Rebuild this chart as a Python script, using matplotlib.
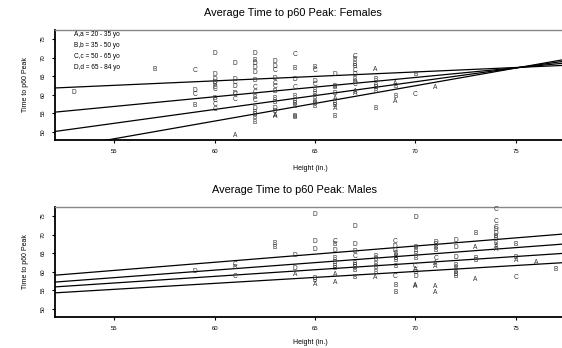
import matplotlib
matplotlib.use("Agg")
import matplotlib.pyplot as plt
import numpy as np

plt.rcParams['font.family'] = ['Liberation Sans', 'DejaVu Sans']

# females: height (in.), time to p60 peak, age group letter
female_height = [53, 57, 59, 59, 59, 59,
                 60, 60, 60, 60, 60, 60, 60, 60, 60, 60, 60,
                 61, 61, 61, 61, 61, 61, 61, 61,
                 62, 62, 62, 62, 62, 62, 62, 62, 62, 62, 62, 62, 62, 62, 62,
                 63, 63, 63, 63, 63, 63, 63, 63, 63, 63, 63, 63, 63,
                 64, 64, 64, 64, 64, 64, 64, 64, 64, 64,
                 65, 65, 65, 65, 65, 65, 65, 65, 65, 65,
                 66, 66, 66, 66, 66, 66, 66, 66, 66,
                 67, 67, 67, 67, 67, 67, 67, 67, 67, 67, 67,
                 68, 68, 68, 68, 68, 68,
                 69, 69, 69, 69,
                 70, 70,
                 71]
female_time = [60.6, 66.8, 66.4, 61.0, 60.1, 57.1,
               71.0, 65.3, 64.0, 63.3, 62.6, 62.0, 61.3, 59.1, 58.4, 57.3, 55.9,
               68.4, 64.0, 63.2, 62.3, 60.4, 60.0, 58.8, 49.0,
               71.1, 69.2, 68.4, 67.4, 66.0, 63.8, 61.8, 60.6, 59.2, 58.5, 56.3, 55.3, 54.6, 53.8, 52.6,
               69.0, 67.6, 66.5, 64.3, 63.1, 62.3, 60.9, 59.1, 57.8, 56.4, 55.4, 54.5, 54.1,
               70.9, 67.1, 64.2, 62.0, 59.6, 58.2, 57.5, 56.8, 54.0, 53.8,
               67.4, 66.5, 63.6, 62.6, 61.2, 60.0, 59.2, 58.0, 57.6, 56.8,
               65.5, 62.3, 61.8, 60.4, 59.0, 57.7, 57.2, 56.3, 54.0,
               70.4, 69.4, 68.0, 67.6, 66.6, 65.4, 64.0, 63.4, 62.6, 60.8, 60.2,
               66.8, 64.1, 62.5, 61.9, 60.9, 56.3,
               63.1, 62.1, 59.4, 58.1,
               65.3, 60.1,
               61.9]
female_group = list("DBCDCB"
                    "DDDDBCCBCCC"
                    "DDCDDCCA"
                    "DBDDDDCCBCDBBBB"
                    "DDCDCCBBBDBAA"
                    "CBDCBBBBBB"
                    "BCDCBBBBBB"
                    "DBBDABBAB"
                    "CBBBCDBDCAA"
                    "ABBBBB"
                    "ABBA"
                    "BC"
                    "A")

# males
male_height = [59, 61, 61, 61, 63, 63, 64, 64, 64,
               65, 65, 65, 65, 65, 65,
               66, 66, 66, 66, 66, 66, 66, 66, 66,
               67, 67, 67, 67, 67, 67, 67, 67, 67,
               68, 68, 68, 68, 68, 68,
               69, 69, 69, 69, 69, 69, 69, 69, 69, 69, 69,
               70, 70, 70, 70, 70, 70, 70, 70, 70, 70, 70,
               71, 71, 71, 71, 71, 71, 71, 71, 71,
               72, 72, 72, 72, 72, 72, 72, 72,
               73, 73, 73, 73, 73,
               74, 74, 74, 74, 74, 74, 74, 74, 74, 74,
               75, 75, 75, 75,
               76, 77]
male_time = [60.1, 61.9, 61.0, 58.8, 67.5, 66.5, 64.3, 60.9, 59.2,
             75.5, 68.0, 66.0, 58.2, 57.6, 56.5,
             68.2, 67.3, 65.8, 63.6, 62.5, 61.5, 60.9, 59.2, 57.2,
             72.1, 67.2, 65.4, 64.0, 62.2, 61.6, 61.0, 60.2, 58.3,
             64.0, 63.2, 61.8, 61.1, 59.7, 58.5,
             68.1, 66.8, 65.6, 64.8, 64.2, 63.6, 63.0, 61.4, 58.6, 56.4, 54.4,
             74.6, 66.4, 65.6, 64.6, 63.6, 61.5, 60.6, 59.8, 58.8, 56.2, 55.9,
             67.9, 67.2, 66.4, 65.6, 63.6, 62.2, 61.3, 55.9, 54.4,
             68.3, 66.4, 63.8, 61.6, 60.9, 60.0, 59.2, 58.6,
             70.3, 66.4, 63.6, 63.0, 57.9,
             76.6, 73.5, 72.0, 71.3, 70.4, 69.5, 68.8, 67.6, 66.8, 65.9,
             67.2, 63.8, 63.1, 58.3,
             62.5, 60.7]
male_group = list("DCBCBBDDA"
                  "DDDBBA"
                  "CBDBBBBAA"
                  "DDDCBBBBB"
                  "BBBBBA"
                  "CDDBBBBBCBB"
                  "DBBBBCADDAA"
                  "DBBBCAAAA"
                  "DDDBBBBB"
                  "BABBA"
                  "CCCDDBBBAA"
                  "BBAC"
                  "AB")

# fitted lines, one per age group (intercept, slope)
female_intercept = [49.31, 28.23, 11.32, -4.17]
female_slope = [0.24, 0.52, 0.745, 0.951]
male_intercept = [36.27, 36.17, 37.35, 37.60]
male_slope = [0.4376, 0.404, 0.3564, 0.3208]

legend_lines = ["A,a = 20 - 35 yo", "B,b = 35 - 50 yo",
                "C,c = 50 - 65 yo", "D,d = 65 - 84 yo"]
x_ticks = [55, 60, 65, 70, 75]
y_ticks = [50, 55, 60, 65, 70, 75]

W, H = 562, 348
fig = plt.figure(figsize=(W / 100, H / 100), dpi=100)


def panel(top_px, bottom_px, heights, times, groups, icpt, slope):
    ax = fig.add_axes([55 / W, 1 - bottom_px / H, (W - 55) / W, (bottom_px - top_px) / H])
    ax.set_xlim(52.05, 77.3)
    ax.set_ylim(47.8, 77.4)
    xs = np.array([52.05, 77.3])
    for a, b in zip(icpt, slope):
        ax.plot(xs, a + b * xs, color="black", lw=0.9)
    for x, y, g in zip(heights, times, groups):
        ax.text(x, y, g, ha="center", va="center", fontsize=4.8, color="#333333")
    ax.set_xticks(x_ticks)
    ax.set_yticks(y_ticks)
    ax.tick_params(axis="both", length=2.5, width=0.8, labelsize=4.3, pad=4, colors="black")
    plt.setp(ax.get_yticklabels(), rotation=90, va="center")
    for s in ["left", "bottom"]:
        ax.spines[s].set_linewidth(1.3)
    ax.spines["top"].set_color("#888888")
    ax.spines["top"].set_linewidth(1.0)
    ax.spines["right"].set_visible(False)
    # y label
    fig.text(26 / W, 1 - (top_px + bottom_px) / 2 / H, "Time to p60 Peak",
             rotation=90, ha="center", va="center", fontsize=5)
    return ax


ax1 = panel(30, 140, female_height, female_time, female_group, female_intercept, female_slope)
for i, t in enumerate(legend_lines):
    ax1.text(0.0375, 0.955 - i * 0.1, t, transform=ax1.transAxes, ha="left", va="center", fontsize=4.7)
fig.text(293 / W, 1 - 13 / H, "Average Time to p60 Peak: Females", ha="center", va="center", fontsize=7.9)
fig.text(310 / W, 1 - 168 / H, "Height (in.)", ha="center", va="center", fontsize=5)

ax2 = panel(207, 317, male_height, male_time, male_group, male_intercept, male_slope)
fig.text(295 / W, 1 - 190 / H, "Average Time to p60 Peak: Males", ha="center", va="center", fontsize=7.9)
fig.text(310 / W, 1 - 343 / H, "Height (in.)", ha="center", va="center", fontsize=5)

plt.savefig("out.png", dpi=100)
